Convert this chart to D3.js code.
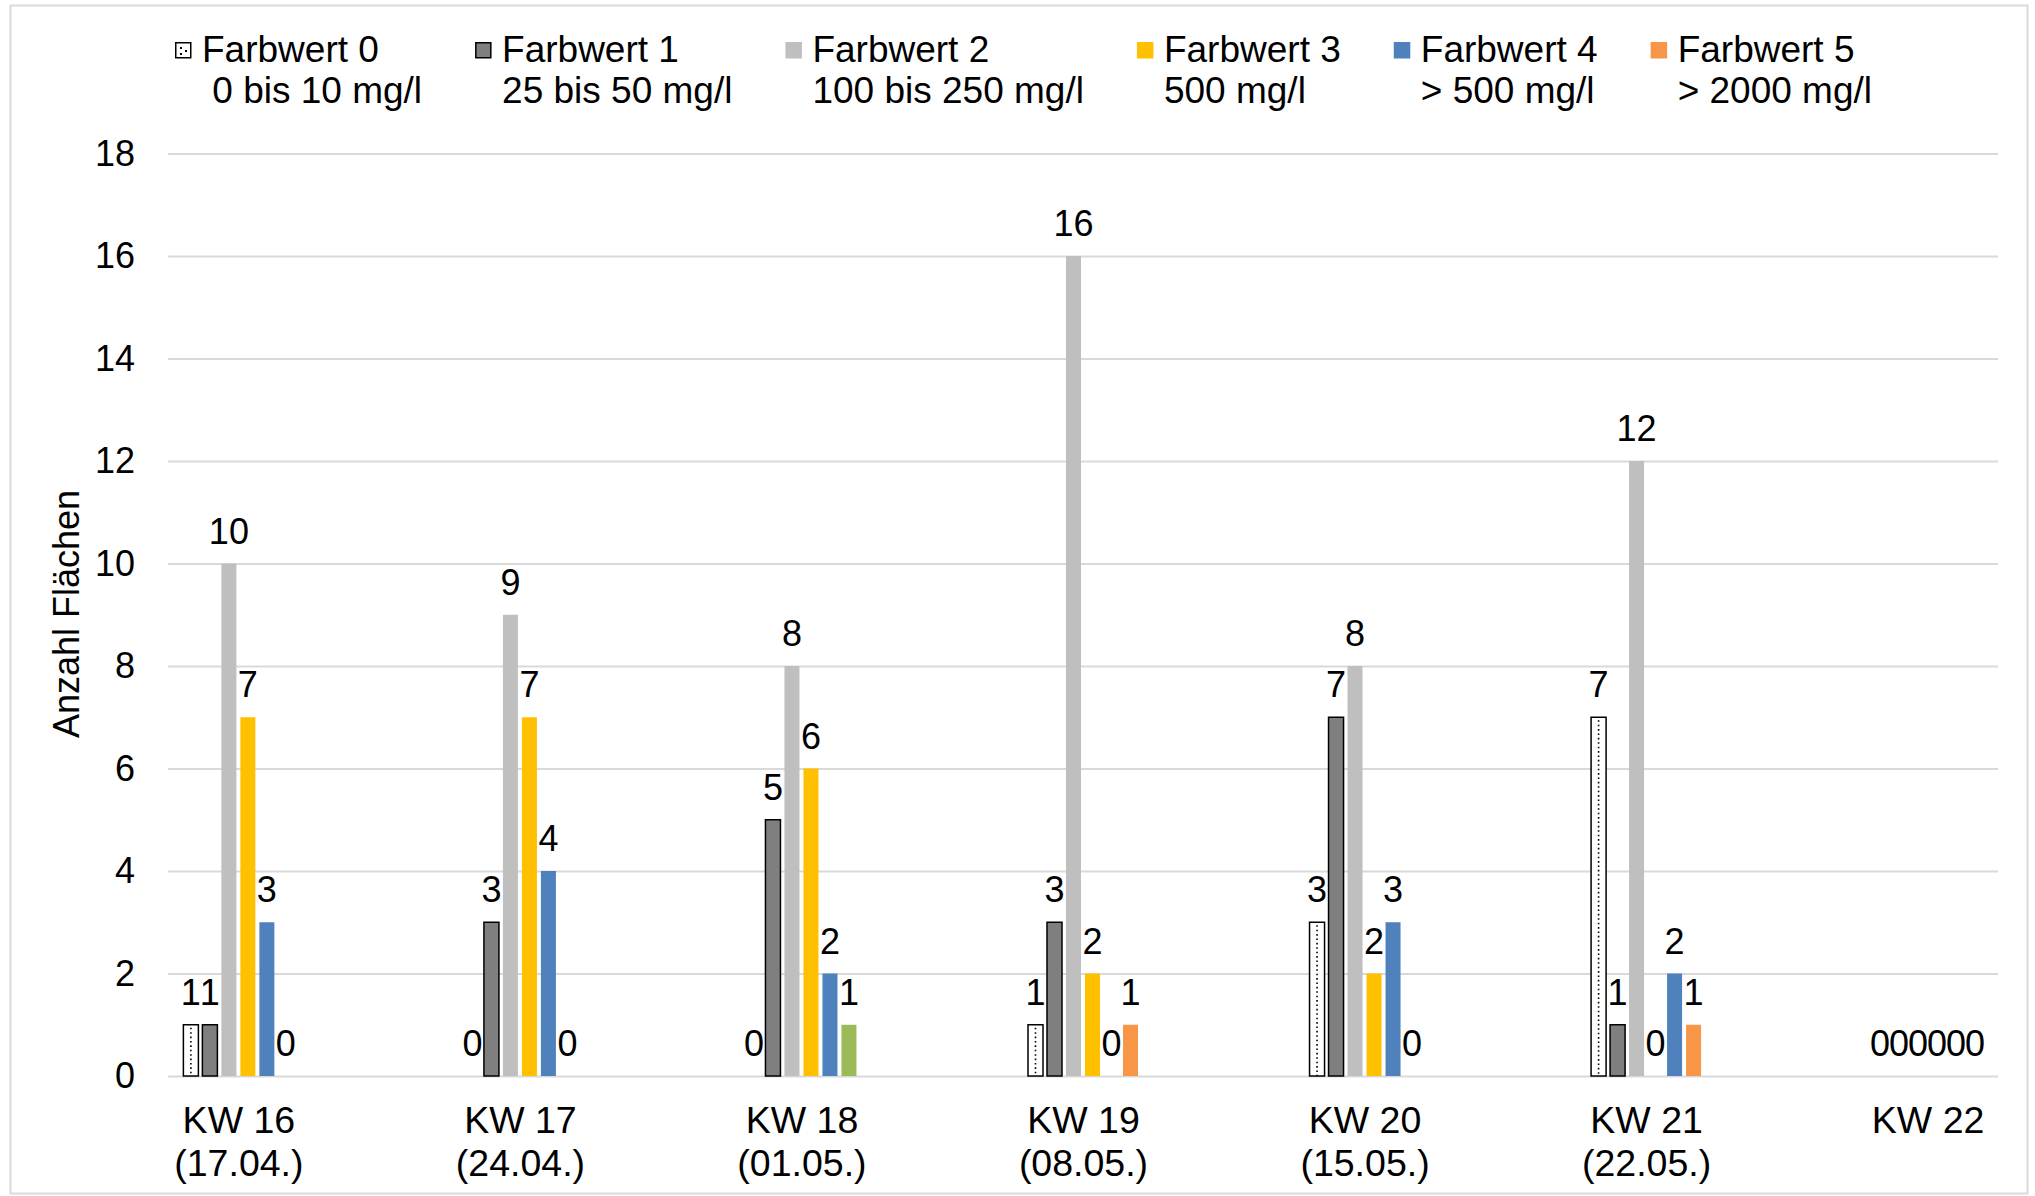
<!DOCTYPE html>
<html>
<head>
<meta charset="utf-8">
<script src="https://cdn.jsdelivr.net/npm/d3@7"></script>
<style>
  body { margin: 0; background: white; }
  text { font-family: "Liberation Sans", Arial, sans-serif; fill: #000; }
</style>
</head>
<body>
<div id="vis"></div>
<script>
// data
const categories = ["KW 16", "KW 17", "KW 18", "KW 19", "KW 20", "KW 21", "KW 22"];
const dates = ["(17.04.)", "(24.04.)", "(01.05.)", "(08.05.)", "(15.05.)", "(22.05.)", ""];
const seriesNames = ["Farbwert 0", "Farbwert 1", "Farbwert 2", "Farbwert 3", "Farbwert 4", "Farbwert 5"];
const seriesRanges = [" 0 bis 10 mg/l", "25 bis 50 mg/l", "100 bis 250 mg/l", "500 mg/l", "> 500 mg/l", "> 2000 mg/l"];
const farbwert0 = [1, 0, 0, 1, 3, 7, 0];
const farbwert1 = [1, 3, 5, 3, 7, 1, 0];
const farbwert2 = [10, 9, 8, 16, 8, 12, 0];
const farbwert3 = [7, 7, 6, 2, 2, 0, 0];
const farbwert4 = [3, 4, 2, 0, 3, 2, 0];
const farbwert5 = [0, 0, 1, 1, 0, 1, 0];
const yTicks = [0, 2, 4, 6, 8, 10, 12, 14, 16, 18];

const series = [farbwert0, farbwert1, farbwert2, farbwert3, farbwert4, farbwert5];
const colors = ["white", "#7f7f7f", "#bfbfbf", "#ffc000", "#4f81bd", "#f79646"];
const strokes = ["#000", "#000", "none", "none", "none", "none"];
// single point with a different fill (KW 18, Farbwert 5)
const pointFill = { "KW 18|5": "#9bbb59" };

let width = 2035;
let height = 1196;
let margin = { top: 153.5, bottom: 120, left: 168, right: 37 };
let fontSize = 36;

let svg = d3.select("#vis")
  .append("svg")
  .attr("width", width)
  .attr("height", height)
  .style("background", "white");

// outer frame
svg.append("rect")
  .attr("x", 10.5)
  .attr("y", 5.5)
  .attr("width", 2017)
  .attr("height", 1188)
  .attr("fill", "none")
  .attr("stroke", "#d9d9d9")
  .attr("stroke-width", 2);

// scales
let xScale = d3.scalePoint()
  .domain(categories)
  .range([margin.left, width - margin.right])
  .padding(0.25);

let xInner = d3.scaleBand()
  .domain(d3.range(series.length))
  .range([-55, 55])
  .paddingInner(0.21);

let yScale = d3.scaleLinear()
  .domain([0, 18])
  .range([height - margin.bottom, margin.top]);

// y axis with gridlines
let yAxis = svg.append("g")
  .attr("transform", `translate(${margin.left}, 0)`)
  .call(d3.axisLeft(yScale)
    .tickValues(yTicks)
    .tickSize(-(width - margin.right - margin.left))
    .tickPadding(33));
yAxis.select(".domain").remove();
yAxis.selectAll(".tick line")
  .attr("stroke", "#d9d9d9")
  .attr("stroke-width", 2);
yAxis.selectAll(".tick text")
  .style("font-family", '"Liberation Sans", Arial, sans-serif')
  .style("font-size", fontSize + "px")
  .attr("fill", "#000");

// x axis labels (two lines)
let xAxis = svg.append("g")
  .attr("transform", `translate(0, ${height - margin.bottom})`)
  .call(d3.axisBottom(xScale).tickSize(0));
xAxis.select(".domain").remove();
xAxis.selectAll(".tick text").remove();
xAxis.selectAll(".tick").each(function(d, i) {
  let t = d3.select(this).append("text")
    .attr("text-anchor", "middle")
    .style("font-size", "37.5px");
  t.append("tspan").attr("x", 0).attr("y", 57).text(d);
  if (dates[i]) t.append("tspan").attr("x", 0).attr("y", 100).text(dates[i]);
});

// y axis title
svg.append("text")
  .attr("transform", "translate(79, 614) rotate(-90)")
  .attr("text-anchor", "middle")
  .style("font-size", fontSize + "px")
  .text("Anzahl Flächen");

// bars
let cells = [];
categories.forEach(function(c, ci) {
  series.forEach(function(s, si) {
    cells.push({ cat: c, si: si, value: s[ci] });
  });
});

let bw = xInner.bandwidth();
let barX = d => xScale(d.cat) + xInner(d.si);

let bars = svg.append("g");
bars.selectAll("rect")
  .data(cells.filter(d => d.value > 0))
  .enter()
  .append("rect")
  .attr("x", barX)
  .attr("y", d => yScale(d.value))
  .attr("width", bw)
  .attr("height", d => yScale(0) - yScale(d.value))
  .attr("fill", d => pointFill[d.cat + "|" + d.si] || colors[d.si])
  .attr("stroke", d => strokes[d.si])
  .attr("stroke-width", 1.5);

// dots inside the Farbwert 0 bars
bars.selectAll("line.dots")
  .data(cells.filter(d => d.value > 0 && d.si === 0))
  .enter()
  .append("line")
  .attr("class", "dots")
  .attr("x1", d => barX(d) + bw / 2)
  .attr("x2", d => barX(d) + bw / 2)
  .attr("y1", d => yScale(d.value) + 3)
  .attr("y2", yScale(0))
  .attr("stroke", "#000")
  .attr("stroke-width", 1.6)
  .attr("stroke-dasharray", "1.6 2.8");

// value labels
svg.append("g").selectAll("text")
  .data(cells)
  .enter()
  .append("text")
  .attr("x", d => barX(d) + bw / 2)
  .attr("y", d => yScale(d.value) - 20)
  .attr("text-anchor", "middle")
  .style("font-size", fontSize + "px")
  .text(d => d.value);

// legend
let legend = svg.append("g");
let lx = 175;
seriesNames.forEach(function(name, i) {
  let item = legend.append("g").attr("transform", `translate(${lx}, 0)`);
  let bs = i < 2 ? 15 : 16.5;
  item.append("rect")
    .attr("x", i < 2 ? 0.75 : 0)
    .attr("y", i < 2 ? 42.75 : 42)
    .attr("width", bs)
    .attr("height", bs)
    .attr("fill", colors[i])
    .attr("stroke", strokes[i])
    .attr("stroke-width", 1.5);
  if (i === 0) {
    item.append("rect").attr("x", 5).attr("y", 47).attr("width", 2).attr("height", 2).attr("fill", "#000");
    item.append("rect").attr("x", 5).attr("y", 53).attr("width", 2).attr("height", 2).attr("fill", "#000");
    item.append("rect").attr("x", 10).attr("y", 50).attr("width", 2).attr("height", 2).attr("fill", "#000");
  }
  let t = item.append("text")
    .style("font-size", "37px")
    .style("white-space", "pre");
  t.append("tspan").attr("x", 27).attr("y", 62).text(name);
  t.append("tspan").attr("x", 27).attr("y", 103).text(seriesRanges[i]);
  let w = d3.max(t.selectAll("tspan").nodes(), n => n.getComputedTextLength());
  lx += 27 + w + 53;
});
</script>
</body>
</html>
